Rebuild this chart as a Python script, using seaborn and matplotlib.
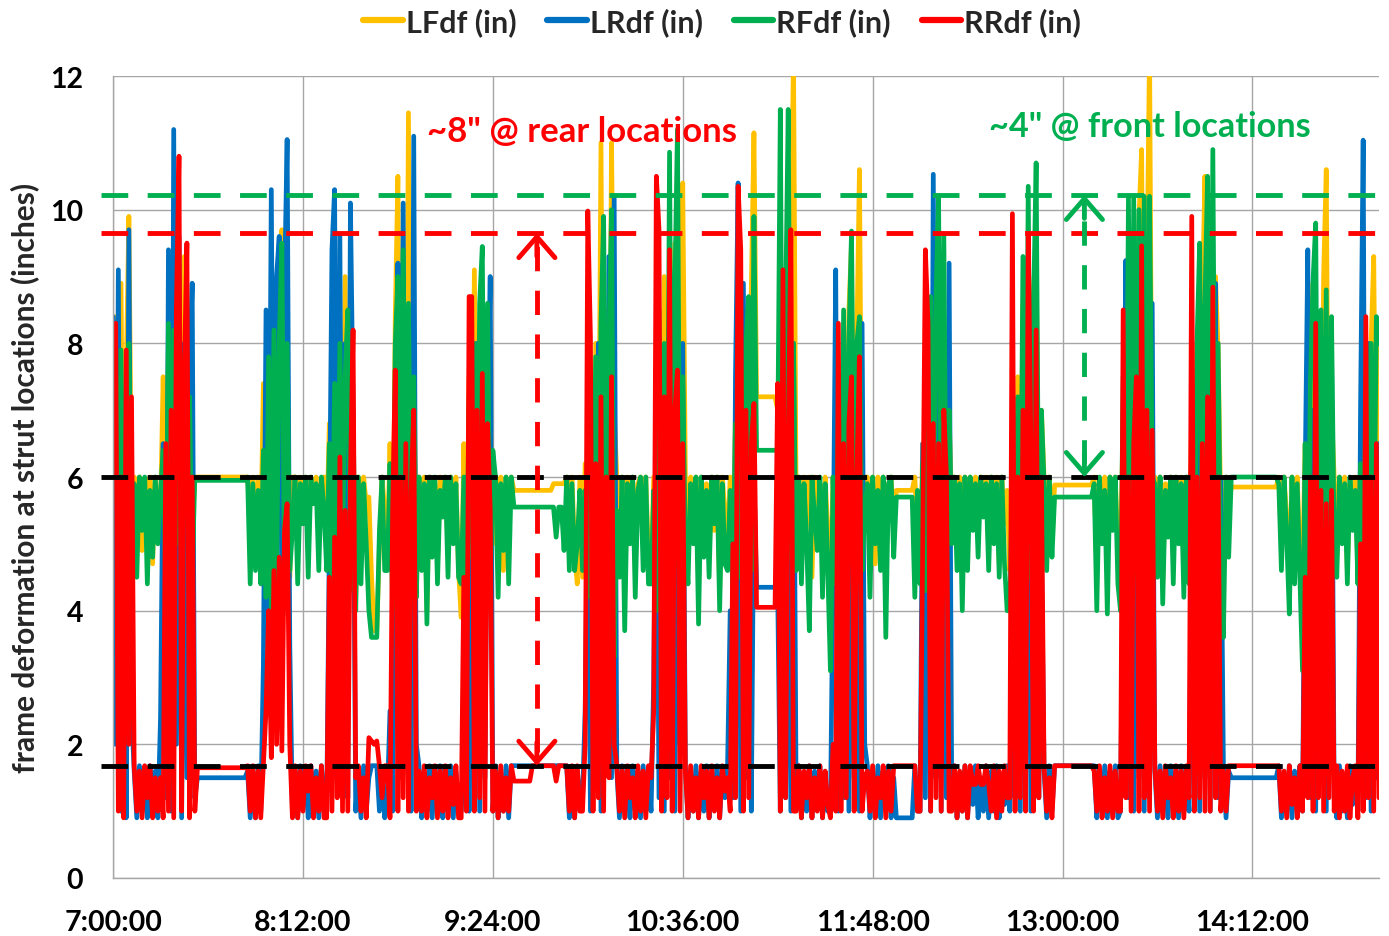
import numpy as np
import pandas as pd
import matplotlib
matplotlib.use("Agg")
import matplotlib.pyplot as plt
from matplotlib.lines import Line2D
import seaborn as sns

# ---------------- data ----------------
series_names = ["LFdf (in)", "LRdf (in)", "RFdf (in)", "RRdf (in)"]
series_colors = ["#FFC000", "#0070C0", "#00B050", "#FF0000"]
tick_minutes = [0, 72, 144, 216, 288, 360, 432]
tick_labels = ["7:00:00", "8:12:00", "9:24:00", "10:36:00", "11:48:00", "13:00:00", "14:12:00"]
y_ticks = [0, 2, 4, 6, 8, 10, 12]

front_upper = 10.22
rear_upper = 9.65
front_lower = 6.0
rear_lower = 1.68
rear_arrow_minute = 160.7
front_arrow_minute = 368.3
rear_note = '~8" @ rear locations'
front_note = '~4" @ front locations'

# one sample per minute from 7:00:00 to 15:00:00
LF = [
    4.8, 8.4, 5.2, 8.9, 4.5, 7.6, 9.9, 5.6,
    6.0, 5.3, 6.0, 4.9, 5.9, 5.6, 6.0, 4.7, 6.0, 5.5,
    5.5, 7.5, 4.5, 8.0, 5.0, 8.6, 4.8, 8.3, 5.0, 9.3, 4.6, 8.0, 5.2, 6.0,
    6.0, 6.0, 6.0, 6.0, 6.0, 6.0, 6.0, 6.0, 6.0, 6.0, 6.0, 6.0, 6.0, 6.0, 6.0, 6.0, 6.0, 6.0, 6.0,
    6.0, 5.4, 6.0, 4.8, 6.0,
    5.0, 7.4, 4.4, 8.0, 4.6, 8.3, 5.0, 8.4, 9.7, 4.8, 7.6, 4.5, 6.0,
    6.0, 5.0, 6.0, 5.6, 6.0, 4.9, 6.0, 5.7, 6.0, 5.2, 5.9, 6.0,
    5.2, 6.8, 4.5, 7.8, 4.8, 8.2, 5.0, 9.0, 4.6, 8.0, 6.5, 4.2,
    6.0, 5.2, 6.0, 5.6, 5.7, 4.5, 3.7, 3.7, 5.0, 6.0, 5.5,
    4.8, 6.5, 4.2, 8.4, 10.5, 4.6, 8.8, 5.0, 11.45, 4.8, 8.0, 4.4,
    6.0, 5.4, 6.0, 4.0, 6.0, 5.1, 5.9, 4.7, 6.0, 5.5, 6.0, 4.9, 6.0, 5.3, 6.0, 4.6,
    3.9, 6.5, 4.5, 7.5, 5.0, 9.1, 4.6, 8.0, 5.2, 8.3, 4.4, 7.0, 5.0,
    6.0, 5.0, 6.0, 4.6, 6.0, 5.5, 6.0,
    5.8, 5.8, 5.8, 5.8, 5.8, 5.8, 5.8, 5.8, 5.8, 5.8, 5.8, 5.8, 5.8, 5.8, 5.8, 5.9, 5.9, 5.9, 5.9, 5.9,
    6.0, 5.2, 6.0, 4.9, 4.4, 6.0,
    4.5, 6.2, 4.4, 7.5, 4.8, 8.0, 5.0, 11.0, 4.6, 8.5, 5.0, 11.0, 7.0,
    6.0, 5.0, 6.0, 4.2, 6.0, 5.5, 6.0, 4.6, 5.9, 6.0, 5.2, 6.0, 4.8,
    4.6, 6.0, 4.4, 7.0, 4.8, 9.0, 4.6, 8.4, 5.0, 9.5, 4.8, 8.0, 10.4,
    6.0, 4.9, 6.0, 5.4, 6.0, 4.4, 6.0, 5.6, 5.9, 4.8, 6.0, 5.2, 6.0, 4.3, 6.0, 5.5,
    5.0, 6.0, 4.6, 7.0, 4.8, 8.0, 5.0, 8.5, 4.6, 8.8, 11.15,
    7.2, 7.2, 7.2, 7.2, 7.2, 7.2, 7.2, 7.2,
    7.0, 5.0, 9.0, 4.8, 8.0, 9.5, 12.3,
    5.5, 6.0, 4.9, 6.0, 5.3, 6.0, 4.5, 6.0, 5.6, 5.9, 4.8, 6.0, 5.2,
    4.2, 6.0, 4.6, 7.2, 4.8, 8.2, 5.0, 8.5, 9.5, 4.8, 8.0, 10.6, 5.0, 6.0,
    6.0, 5.2, 6.0, 4.7, 6.0, 5.5, 6.0, 4.5, 5.9, 6.0, 5.3,
    5.8, 5.8, 5.8, 5.8, 5.8, 5.8, 5.8,
    6.0, 5.2,
    4.6, 6.5, 4.8, 7.8, 5.0, 8.6, 4.6, 9.0, 5.0, 8.4, 4.8, 7.0,
    5.5, 6.0, 5.0, 6.0, 4.6, 6.0, 5.4, 6.0, 5.7, 6.0, 5.2, 6.0, 5.8, 6.0, 4.9, 6.0, 5.5, 6.0, 4.7, 6.0, 5.3, 5.8,
    4.6, 6.5, 4.4, 7.5, 5.0, 8.6, 4.8, 9.0, 5.0, 8.8, 9.5, 4.6, 7.0,
    6.0, 5.3, 6.0, 5.0,
    5.88, 5.88, 5.88, 5.88, 5.88, 5.88, 5.88, 5.88, 5.88, 5.88, 5.88, 5.88, 5.88, 5.88, 5.88,
    6.0, 4.6, 5.9, 5.3, 6.0, 4.8, 6.0, 5.5, 6.0, 5.0,
    4.6, 7.0, 4.8, 8.5, 5.0, 8.8, 4.6, 9.9, 10.9, 4.8, 9.0, 12.4, 5.5,
    6.0, 5.0, 6.0, 4.4, 5.9, 5.6, 6.0, 4.8, 6.0, 5.2, 6.0, 4.6, 6.0,
    4.6, 6.8, 4.8, 8.0, 5.0, 8.6, 10.5, 4.6, 8.5, 5.0, 9.0, 7.9, 5.5,
    5.2, 6.0, 5.6,
    5.85, 5.85, 5.85, 5.85, 5.85, 5.85, 5.85, 5.85, 5.85, 5.85, 5.85, 5.85, 5.85, 5.85, 5.85, 5.85, 5.85, 5.85,
    6.0, 5.0, 6.0, 5.4, 4.4, 6.0, 5.2, 6.0, 4.8,
    4.6, 6.5, 4.4, 7.5, 8.9, 4.8, 8.0, 5.0, 9.0, 10.6, 4.6, 7.0,
    6.0, 4.8, 6.0, 5.4, 6.0, 4.6, 5.9, 5.5, 6.0,
    4.6, 6.0, 4.8, 7.5, 5.0, 8.0, 9.3, 5.0, 8.2,
]

LR = [
    8.4, 2.0, 9.1, 1.0, 6.5, 0.9, 9.7, 2.5,
    1.6, 0.9, 1.68, 1.0, 1.5, 0.9, 1.68, 1.1, 1.6, 0.9,
    2.4, 6.5, 1.2, 9.4, 1.0, 11.2, 2.0, 9.6, 0.9, 8.0, 1.5, 7.5, 8.9, 1.2,
    1.5, 1.5, 1.5, 1.5, 1.5, 1.5, 1.5, 1.5, 1.5, 1.5, 1.5, 1.5, 1.5, 1.5, 1.5, 1.5, 1.5, 1.5, 1.5,
    1.6, 0.9, 1.5, 0.9, 1.68,
    1.0, 3.2, 8.5, 4.0, 10.3, 3.6, 9.0, 9.6, 4.2, 8.8, 11.05, 3.5, 1.0,
    1.6, 0.9, 1.68, 1.1, 1.5, 0.9, 1.68, 1.0, 1.6, 0.9, 1.68, 1.2,
    1.0, 5.0, 9.4, 10.3, 1.5, 9.6, 2.0, 8.0, 1.2, 10.1, 7.0, 1.0,
    1.6, 0.9, 1.68, 1.0, 1.5, 1.68, 1.68, 1.68, 1.0, 1.6, 0.9,
    1.2, 2.5, 1.0, 6.0, 9.2, 1.5, 10.1, 2.0, 8.5, 1.0, 11.1, 2.0,
    1.68, 0.9, 1.5, 1.0, 1.68, 0.9, 1.6, 1.1, 1.68, 0.9, 1.5, 1.0, 1.68, 0.9, 1.6, 1.0,
    1.0, 1.68, 6.0, 1.0, 7.5, 1.2, 8.0, 1.0, 7.0, 1.5, 6.5, 9.0, 1.0,
    1.68, 0.9, 1.5, 1.0, 1.68, 0.9, 1.68,
    1.68, 1.68, 1.68, 1.68, 1.68, 1.68, 1.68, 1.68, 1.68, 1.68, 1.68, 1.68, 1.68, 1.68, 1.68, 1.68, 1.68, 1.68, 1.68, 1.68,
    1.68, 0.9, 1.5, 0.9, 1.6, 1.2,
    1.2, 2.5, 6.0, 1.0, 7.0, 1.5, 8.0, 1.0, 8.5, 2.0, 9.3, 1.5, 10.2,
    1.6, 0.9, 1.68, 1.0, 1.5, 0.9, 1.68, 1.1, 1.6, 0.9, 1.68, 1.0, 1.5,
    1.0, 3.0, 7.0, 1.2, 6.5, 1.0, 7.8, 1.5, 8.9, 1.0, 7.5, 2.0, 8.0,
    1.68, 0.9, 1.5, 1.0, 1.68, 0.9, 1.6, 1.0, 1.68, 0.9, 1.5, 1.1, 1.68, 0.9, 1.6, 1.2,
    1.68, 4.0, 1.2, 7.5, 10.4, 1.0, 8.9, 1.5, 7.6, 1.0, 6.0,
    4.35, 4.35, 4.35, 4.35, 4.35, 4.35, 4.35, 4.35,
    4.3, 1.0, 8.5, 1.2, 7.0, 1.0, 8.0,
    1.2, 1.68, 0.9, 1.5, 1.0, 1.68, 0.9, 1.6, 1.1, 1.68, 0.9, 1.5, 1.0,
    1.0, 4.5, 9.1, 1.0, 7.5, 1.2, 6.8, 1.0, 7.6, 1.5, 7.0, 1.0, 8.3, 2.0,
    1.68, 0.9, 1.5, 1.0, 1.68, 0.9, 1.6, 1.2, 1.68, 0.9, 1.5,
    0.9, 0.9, 0.9, 0.9, 0.9, 0.9, 0.9,
    1.68, 1.0,
    1.0, 6.5, 1.2, 7.0, 1.0, 10.53, 1.5, 8.0, 1.0, 7.5, 1.2, 9.2,
    1.2, 1.68, 0.9, 1.5, 1.0, 1.68, 0.9, 1.6, 1.1, 1.68, 0.9, 1.5, 1.0, 1.68, 0.9, 1.6, 1.0, 1.68, 0.9, 1.5, 1.1, 1.68,
    1.0, 4.0, 1.2, 6.5, 1.0, 7.0, 1.5, 7.8, 1.0, 8.0, 6.5, 1.2, 5.0,
    1.6, 0.9, 1.68, 1.0,
    1.68, 1.68, 1.68, 1.68, 1.68, 1.68, 1.68, 1.68, 1.68, 1.68, 1.68, 1.68, 1.68, 1.68, 1.68,
    1.68, 0.9, 1.5, 1.0, 1.68, 0.9, 1.6, 1.2, 1.68, 0.9,
    1.0, 5.0, 9.24, 1.2, 7.5, 1.0, 8.0, 1.5, 7.2, 1.0, 8.2, 1.2, 8.6,
    1.6, 0.9, 1.68, 1.0, 1.5, 0.9, 1.68, 1.1, 1.6, 0.9, 1.68, 1.0, 1.5,
    1.0, 5.5, 1.2, 7.0, 1.0, 6.8, 1.5, 7.5, 1.0, 8.0, 8.9, 1.2, 6.0,
    1.68, 0.9, 1.6,
    1.5, 1.5, 1.5, 1.5, 1.5, 1.5, 1.5, 1.5, 1.5, 1.5, 1.5, 1.5, 1.5, 1.5, 1.5, 1.5, 1.5, 1.5,
    1.68, 0.9, 1.5, 1.0, 1.68, 0.9, 1.6, 1.2, 1.68,
    1.0, 6.0, 9.4, 1.2, 7.0, 1.0, 6.5, 1.5, 7.2, 1.0, 6.8, 8.0,
    1.2, 0.9, 1.68, 1.0, 1.5, 0.9, 1.68, 1.1, 1.6,
    1.0, 7.0, 11.04, 1.2, 8.0, 1.0, 7.0, 1.5, 6.5,
]

RF = [
    6.0, 7.5, 4.5, 7.9, 5.0, 7.0, 8.0, 4.8,
    5.9, 4.5, 6.0, 5.2, 6.0, 4.4, 5.8, 4.8, 6.0, 5.0,
    5.8, 6.4, 4.2, 8.3, 4.6, 8.2, 5.0, 8.4, 4.4, 7.8, 5.5, 7.2, 4.5, 6.0,
    5.95, 5.95, 5.95, 5.95, 5.95, 5.95, 5.95, 5.95, 5.95, 5.95, 5.95, 5.95, 5.95, 5.95, 5.95, 5.95, 5.95, 5.95, 5.95,
    6.0, 4.4, 5.9, 4.6, 5.8,
    4.4, 6.4, 4.2, 7.8, 4.0, 8.2, 4.5, 8.0, 9.5, 4.3, 8.0, 4.6, 5.2,
    6.0, 4.4, 5.9, 5.3, 6.0, 4.5, 6.0, 5.6, 5.9, 4.6, 6.0, 5.5,
    4.6, 6.5, 4.2, 7.4, 4.5, 8.0, 4.8, 7.5, 8.5, 4.3, 7.0, 4.0,
    6.0, 4.4, 5.9, 5.0, 4.0, 3.6, 3.6, 3.6, 5.2, 6.0, 4.6,
    4.6, 6.2, 4.0, 8.0, 9.0, 4.4, 9.4, 4.5, 8.6, 4.8, 7.5, 4.2,
    6.0, 4.6, 5.9, 3.8, 6.0, 4.8, 6.0, 4.4, 5.8, 5.4, 6.0, 4.5, 6.0, 5.0, 5.9, 4.5,
    4.4, 6.0, 4.2, 7.2, 4.8, 8.0, 4.5, 8.6, 9.45, 4.4, 8.6, 4.2, 6.4,
    6.0, 4.2, 5.9, 4.9, 6.0, 4.4, 6.0,
    5.55, 5.55, 5.55, 5.55, 5.55, 5.55, 5.55, 5.55, 5.55, 5.55, 5.55, 5.55, 5.55, 5.55, 5.55, 5.55, 5.1, 5.55, 5.55, 4.9,
    6.0, 4.6, 5.9, 4.6, 5.0, 5.8,
    4.6, 5.8, 4.2, 7.2, 4.5, 7.8, 4.4, 8.3, 9.9, 4.5, 8.0, 10.0, 3.3,
    5.5, 4.5, 6.0, 3.7, 5.9, 5.0, 6.0, 4.2, 5.8, 6.0, 4.6, 6.0, 4.4,
    4.4, 5.8, 4.0, 8.5, 4.6, 8.0, 4.2, 10.86, 4.5, 8.8, 11.2, 4.4, 7.5,
    5.0, 4.4, 5.9, 5.0, 6.0, 3.8, 6.0, 4.8, 5.8, 4.5, 6.0, 5.3, 6.0, 4.0, 5.9, 4.7,
    4.6, 5.8, 4.2, 6.8, 4.5, 7.6, 4.4, 8.0, 8.7, 4.6, 9.9,
    6.4, 6.4, 6.4, 6.4, 6.4, 6.4, 6.4, 6.4,
    6.4, 11.5, 4.5, 8.5, 11.5, 4.8, 8.0,
    4.6, 6.0, 4.4, 5.9, 5.0, 3.7, 6.0, 5.4, 4.9, 6.0, 4.2, 5.9, 4.6,
    3.1, 6.0, 4.4, 7.0, 4.6, 8.5, 4.2, 8.0, 9.68, 4.5, 8.0, 8.4, 4.6, 5.5,
    5.9, 4.2, 6.0, 5.0, 5.8, 4.6, 6.0, 3.6, 5.9, 6.0, 4.8,
    5.7, 5.7, 5.7, 5.7, 5.7, 5.7, 5.7,
    4.2, 5.8,
    4.4, 6.2, 4.3, 7.6, 8.7, 4.5, 8.6, 10.2, 4.6, 9.6, 4.4, 7.0,
    5.0, 6.0, 4.6, 5.9, 4.0, 6.0, 4.6, 6.0, 5.2, 5.9, 4.8, 6.0, 5.4, 5.9, 4.6, 6.0, 5.0, 5.9, 4.5, 6.0, 4.7, 4.0,
    4.0, 6.0, 4.5, 7.2, 4.4, 9.3, 4.6, 10.35, 4.5, 8.5, 10.7, 4.8, 7.0,
    5.9, 4.6, 6.0, 4.8,
    5.7, 5.7, 5.7, 5.7, 5.7, 5.7, 5.7, 5.7, 5.7, 5.7, 5.7, 5.7, 5.7, 5.7, 5.7,
    5.9, 4.0, 6.0, 5.0, 5.8, 3.95, 6.0, 5.2, 6.0, 4.4,
    4.0, 7.5, 4.4, 10.2, 4.6, 10.2, 4.5, 10.0, 4.8, 10.2, 4.5, 10.2, 6.0,
    5.9, 4.5, 6.0, 4.1, 5.8, 5.1, 6.0, 4.4, 6.0, 5.0, 5.9, 4.2, 6.0,
    4.4, 6.5, 4.2, 8.0, 9.5, 4.4, 8.6, 10.5, 4.6, 10.9, 4.5, 8.0, 4.4,
    3.6, 6.0, 4.8,
    6.0, 6.0, 6.0, 6.0, 6.0, 6.0, 6.0, 6.0, 6.0, 6.0, 6.0, 6.0, 6.0, 6.0, 6.0, 6.0, 6.0, 6.0,
    5.9, 4.6, 6.0, 5.1, 3.95, 6.0, 4.4, 5.9, 4.5,
    3.1, 6.5, 4.0, 7.4, 8.95, 9.8, 3.5, 8.5, 3.1, 8.8, 3.6, 8.4,
    5.0, 4.5, 6.0, 5.0, 5.9, 4.4, 6.0, 5.2, 5.8,
    4.4, 6.2, 4.5, 7.2, 4.6, 8.0, 4.4, 8.4, 8.0,
]

RR = [
    6.5, 8.3, 1.0, 6.0, 0.9, 7.9, 2.0, 7.2,
    1.68, 1.0, 1.6, 0.9, 1.68, 1.2, 1.68, 0.9, 1.5, 1.0,
    1.5, 0.9, 6.5, 1.0, 7.0, 0.9, 8.5, 10.8, 1.0, 7.5, 9.5, 0.9, 6.0, 1.0,
    1.65, 1.65, 1.65, 1.65, 1.65, 1.65, 1.65, 1.65, 1.65, 1.65, 1.65, 1.65, 1.65, 1.65, 1.65, 1.65, 1.65, 1.65, 1.65,
    1.68, 1.0, 1.68, 0.9, 1.6,
    0.9, 1.7, 2.5, 4.0, 1.8, 4.6, 2.0, 4.8, 1.9, 5.2, 5.6, 2.0, 0.9,
    1.68, 0.9, 1.6, 1.0, 1.68, 1.3, 1.68, 0.9, 1.5, 1.0, 1.68, 0.9,
    0.9, 4.5, 1.0, 5.1, 1.2, 6.3, 1.0, 5.5, 1.0, 6.0, 8.2, 1.5,
    1.68, 1.0, 1.5, 0.9, 2.1, 2.05, 2.0, 2.05, 1.68, 1.2, 1.68,
    1.68, 0.9, 5.5, 7.6, 1.0, 6.0, 1.2, 6.5, 1.0, 5.8, 7.0, 1.0,
    1.6, 1.0, 1.68, 0.9, 1.5, 1.2, 1.68, 0.9, 1.6, 1.0, 1.68, 0.9, 1.5, 1.1, 1.68, 0.9,
    0.9, 4.5, 1.0, 8.7, 8.7, 1.0, 7.0, 1.2, 7.55, 1.0, 6.8, 5.5, 1.0,
    1.6, 0.9, 1.68, 1.0, 1.5, 1.0, 1.68,
    1.45, 1.45, 1.45, 1.45, 1.45, 1.45, 1.45, 1.68, 1.68, 1.68, 1.68, 1.68, 1.68, 1.68, 1.68, 1.68, 1.45, 1.68, 1.68, 1.68,
    1.68, 1.0, 1.68, 0.9, 1.68, 1.0,
    1.0, 2.0, 9.98, 8.1, 1.0, 6.2, 1.2, 7.2, 1.0, 6.0, 1.5, 7.5, 2.0,
    1.68, 1.0, 1.6, 0.9, 1.68, 1.2, 1.5, 0.9, 1.68, 1.0, 1.6, 0.9, 1.68,
    1.5, 2.5, 10.5, 9.7, 1.0, 7.2, 1.2, 9.4, 1.0, 7.0, 7.6, 1.0, 6.5,
    1.6, 0.9, 1.68, 1.0, 1.5, 0.9, 1.68, 1.2, 1.6, 0.9, 1.68, 1.0, 1.5, 0.9, 1.68, 1.3,
    1.5, 1.0, 5.0, 1.2, 10.35, 9.4, 1.0, 7.0, 1.2, 6.5, 7.1,
    4.05, 4.05, 4.05, 4.05, 4.05, 4.05, 4.05, 4.05,
    7.4, 1.0, 9.1, 1.2, 6.5, 9.7, 1.0,
    1.0, 1.68, 0.9, 1.6, 1.2, 1.68, 0.9, 1.5, 1.0, 1.68, 0.9, 1.6, 1.1,
    0.9, 2.0, 1.0, 8.3, 1.0, 6.5, 1.2, 6.8, 7.5, 1.0, 6.0, 7.8, 1.0, 1.5,
    1.6, 1.0, 1.68, 0.9, 1.5, 1.2, 1.68, 0.9, 1.6, 1.0, 1.68,
    1.68, 1.68, 1.68, 1.68, 1.68, 1.68, 1.68,
    1.68, 1.0,
    1.0, 5.0, 9.4, 8.3, 1.0, 6.8, 1.2, 6.5, 1.0, 7.0, 6.0, 1.0,
    1.0, 1.68, 0.9, 1.6, 1.0, 1.68, 0.9, 1.68, 1.4, 1.4, 1.68, 1.4, 1.4, 1.68, 1.4, 1.0, 1.68, 0.9, 1.6, 1.0, 1.68, 1.2,
    1.2, 9.94, 1.0, 6.0, 1.2, 7.0, 1.0, 9.6, 6.5, 1.0, 8.2, 1.2, 6.0,
    1.68, 1.0, 1.5, 0.9,
    1.68, 1.68, 1.68, 1.68, 1.68, 1.68, 1.68, 1.68, 1.68, 1.68, 1.68, 1.68, 1.68, 1.68, 1.68,
    1.6, 1.0, 1.68, 0.9, 1.5, 1.0, 1.68, 0.9, 1.6, 1.0,
    1.0, 8.5, 1.2, 6.0, 1.0, 6.5, 7.5, 1.0, 9.46, 1.2, 7.0, 1.0, 6.7,
    1.68, 1.0, 1.6, 0.9, 1.68, 1.2, 1.5, 0.9, 1.68, 1.0, 1.6, 0.9, 1.68,
    1.2, 9.9, 1.0, 6.0, 1.2, 6.5, 1.0, 7.2, 1.0, 8.84, 1.2, 6.0, 1.0,
    1.6, 1.0, 1.68,
    1.68, 1.68, 1.68, 1.68, 1.68, 1.68, 1.68, 1.68, 1.68, 1.68, 1.68, 1.68, 1.68, 1.68, 1.68, 1.68, 1.68, 1.68,
    1.68, 1.0, 1.6, 0.9, 1.68, 1.1, 1.5, 0.9, 1.68,
    1.0, 4.5, 1.2, 6.0, 1.0, 8.3, 1.2, 5.8, 1.0, 5.6, 1.2, 5.8,
    1.0, 1.68, 0.9, 1.6, 1.0, 1.68, 0.9, 1.5, 1.68,
    0.9, 5.0, 1.0, 8.4, 1.2, 6.0, 1.0, 6.5, 1.2,
]

# ---------------- figure ----------------
sns.set_style("white")
plt.rcParams["font.family"] = ["Lato", "DejaVu Sans"]
plt.rcParams["font.weight"] = "bold"

series_values = [LF, LR, RF, RR]
frames = []
for name, vals in zip(series_names, series_values):
    n = len(vals)
    frames.append(pd.DataFrame({"minute": np.arange(n), "value": vals, "series": name}))
df = pd.concat(frames, ignore_index=True)

fig = plt.figure(figsize=(13.89, 9.37), dpi=100)
ax = fig.add_axes([0.0814, 0.0619, 0.9114, 0.8559])

sns.lineplot(data=df, x="minute", y="value", hue="series", hue_order=series_names,
             palette=series_colors, linewidth=3.4, estimator=None, legend=False, ax=ax)

ax.set_xlim(0, 480)
ax.set_ylim(0, 12)
ax.set_xticks(tick_minutes)
ax.set_xticklabels(tick_labels)
ax.set_yticks(y_ticks)
ax.set_yticklabels([str(v) for v in y_ticks])
ax.grid(True, color="#A6A6A6", linewidth=1.0)
ax.set_axisbelow(True)
for side in ["top", "right"]:
    ax.spines[side].set_visible(False)
for side in ["left", "bottom"]:
    ax.spines[side].set_color("#A6A6A6")
    ax.spines[side].set_linewidth(1.0)
ax.tick_params(axis="both", labelsize=20.5, colors="#A6A6A6", labelcolor="black", length=8.5, width=1)
ax.tick_params(axis="x", pad=14)
ax.tick_params(axis="y", pad=13)
for lab in ax.get_xticklabels() + ax.get_yticklabels():
    lab.set_fontweight("bold")
ax.set_xlabel("")
ax.set_ylabel("frame deformation at strut locations (inches)", fontsize=21.5, fontweight="bold", labelpad=8)

# threshold dashed lines
dash = (0, (5.5, 4.0))
for yv, col in [(front_upper, "#00B050"), (rear_upper, "#FF0000"), (front_lower, "black"), (rear_lower, "black")]:
    ax.plot([-4.5, 484], [yv, yv], linestyle=dash, linewidth=3.5, color=col, clip_on=False, zorder=6)

# double-headed dashed arrows
def double_arrow(xm, y0, y1, col):
    ax.plot([xm, xm], [y0 + 0.2, y1 - 0.2], linestyle=(0, (5.0, 4.0)), linewidth=3.5, color=col, zorder=7)
    props = dict(arrowstyle="->,head_length=0.75,head_width=0.65", color=col, lw=3.5,
                 mutation_scale=20, shrinkA=0, shrinkB=0)
    ax.annotate("", xy=(xm, y1), xytext=(xm, y1 - 0.35), arrowprops=props, zorder=7)
    ax.annotate("", xy=(xm, y0), xytext=(xm, y0 + 0.35), arrowprops=props, zorder=7)

double_arrow(rear_arrow_minute, rear_lower, rear_upper, "#FF0000")
double_arrow(front_arrow_minute, front_lower, front_upper, "#00B050")

ax.text(119, 11.18, rear_note, color="#FF0000", fontsize=25, fontweight="bold", ha="left", va="center", zorder=8)
ax.text(332, 11.25, front_note, color="#00B050", fontsize=24.7, fontweight="bold", ha="left", va="center", zorder=8)

handles = [Line2D([0], [0], color=c, linewidth=4.5) for c in series_colors]
fig.legend(handles, series_names, loc="center", bbox_to_anchor=(0.52, 0.976), ncol=4, frameon=False,
           handlelength=1.3, handletextpad=0.1, columnspacing=1.0,
           prop={"weight": "bold", "size": 22})

fig.savefig("out.png", dpi=100)
